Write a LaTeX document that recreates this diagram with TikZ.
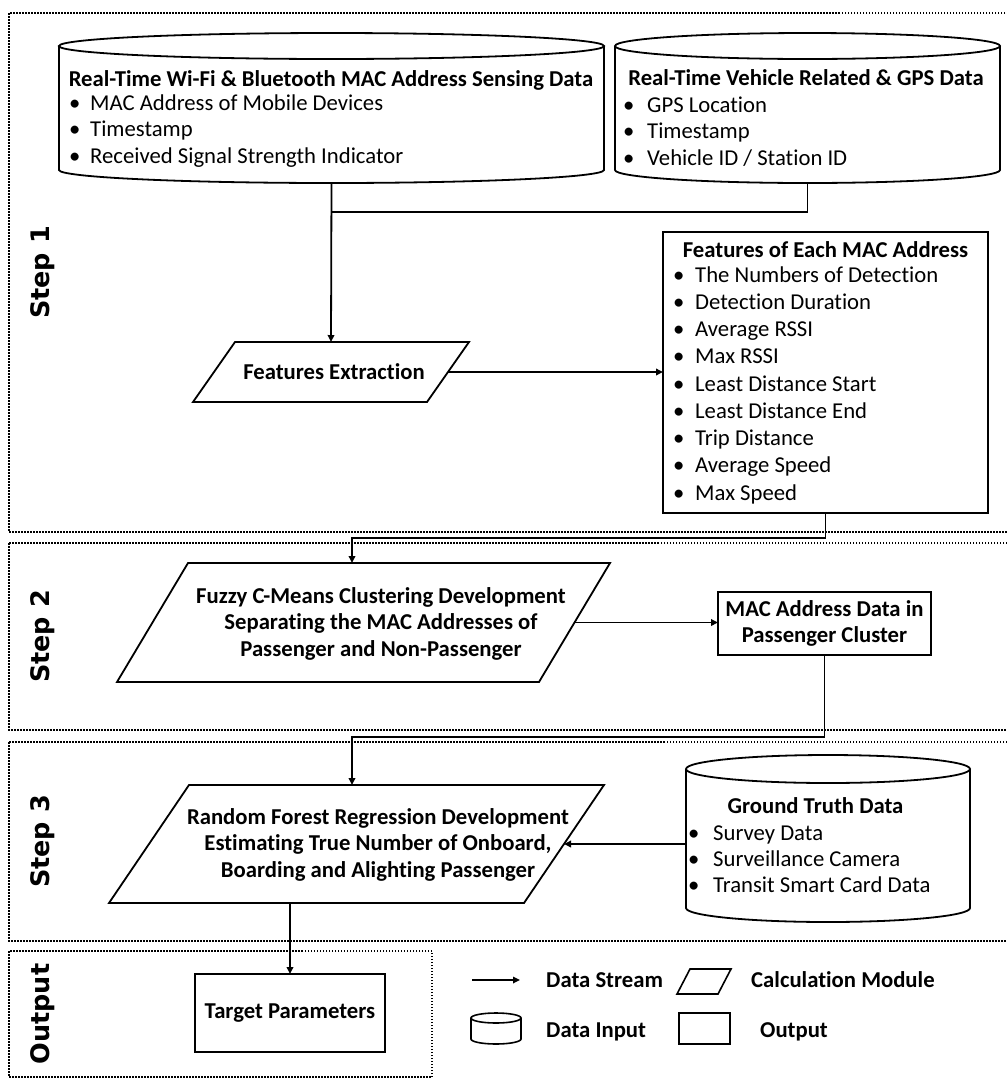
\documentclass[tikz,border=0pt]{standalone}
\usepackage{fontspec}
\setmainfont{Carlito}[Ligatures=NoCommon]
\newfontfamily\stepfont{DejaVu Sans}
\usetikzlibrary{arrows.meta,calc}

% bullet item with a fixed indent
\newcommand\itm[2][21pt]{\makebox[#1][l]{\textbullet}#2}

% database outline around an invisible rectangular node
\newcommand\cylframe[3][1.8pt]{%
  \draw[shp, line width=#1] let \p1=(#2.north west), \p2=(#2.south east), \n1={(\x2-\x1)/2} in
    (\x1,\y1-#3) -- (\x1,\y2+#3)
    arc[start angle=180, end angle=360, x radius={\n1*1pt}, y radius=#3]
    -- (\x2,\y1-#3)
    (\x1+\n1,\y1-#3) ellipse[x radius={\n1*1pt}, y radius=#3];
}

% calculation module outline: a parallelogram leaning right inside the node box,
% plus a coordinate at the middle of its right edge
\newcommand\paraframe[3][1.8pt]{%
  \draw[shp, line width=#1] (#2.south west) -- ([xshift=#3]#2.north west) -- (#2.north east)
    -- ([xshift=-#3]#2.south east) -- cycle;
  \coordinate (#2-r) at ($(#2.east)+(-#3/2,0)$);
}

\tikzset{
  shp/.style={draw=black, line width=1.8pt, line join=miter},
  dotbox/.style={draw=black, line width=1.5pt, dash pattern=on 1.5pt off 1.5pt},
  conn/.style={draw=black, line width=1.8pt},
  arr/.style={conn, -{Triangle[length=7pt,width=6.5pt]}},
  area/.style={inner sep=0pt, outer sep=0pt, draw=none, align=center},
  boxnode/.style={shp, rectangle, inner sep=0pt, outer sep=0pt, align=center},
  txt/.style={inner sep=0pt, font=\fontsize{22.7}{26.5}\selectfont},
  btxt/.style={inner sep=0pt, font=\fontsize{22.7}{26.5}\selectfont\bfseries},
  steplbl/.style={rotate=90, inner sep=0pt, font=\stepfont\bfseries\fontsize{25.5}{30}\selectfont},
}

\begin{document}
\begin{tikzpicture}[x=1pt,y=-1pt]
\clip (0,0) rectangle (1007,1080);
\fill[white] (0,0) rectangle (1007,1080);

% ---------- stage frames ----------
\draw[dotbox] (9,13) rectangle (1020,532);
\draw[dotbox] (9,543) rectangle (1020,730);
\draw[dotbox] (9,742) rectangle (1020,941);
\draw[dotbox] (9,951) rectangle (432,1077);

\node[steplbl] (s1) at (43,272.5) {Step 1};
\node[steplbl] (s2) at (43,636.5) {Step 2};
\node[steplbl] (s3) at (43,841.5) {Step 3};
\node[steplbl] (s4) at (43,1014) {Output};

% ---------- step 1 ----------
\node[area, minimum width=545pt, minimum height=150pt] (wifi) at (331.5,108) {};
\cylframe{wifi}{13pt}
\node[btxt, anchor=base] (wifittl) at (331,86) {Real-Time Wi-Fi \& Bluetooth MAC Address Sensing Data};
\node[txt, anchor=base west] (wifilst) at (69,110) {\begin{tabular}[t]{@{}l@{}}
  \itm[21pt]{MAC Address of Mobile Devices}\\
  \itm[21pt]{Timestamp}\\
  \itm[21pt]{Received Signal Strength Indicator}\end{tabular}};

\node[area, minimum width=385pt, minimum height=150pt] (veh) at (807.5,108) {};
\cylframe{veh}{13pt}
\node[btxt, anchor=base] (vehttl) at (806,85) {Real-Time Vehicle Related \& GPS Data};
\node[txt, anchor=base west] (vehlst) at (623,112) {\begin{tabular}[t]{@{}l@{}}
  \itm[24pt]{GPS Location}\\
  \itm[24pt]{Timestamp}\\
  \itm[24pt]{Vehicle ID / Station ID}\end{tabular}};

\node[area, btxt, minimum width=276pt, minimum height=60pt] (fe) at (331,372) {\hspace*{6pt}Features Extraction};
\paraframe{fe}{42pt}

\node[boxnode, minimum width=325pt, minimum height=281pt] (feat) at (825.5,372.5) {};
\node[btxt, anchor=base] (featttl) at (825.5,257) {Features of Each MAC Address};
\node[txt, anchor=base west, font=\fontsize{22.7}{27.25}\selectfont] (featlst) at (673,282) {\begin{tabular}[t]{@{}l@{}}
  \itm[22pt]{The Numbers of Detection}\\
  \itm[22pt]{Detection Duration}\\
  \itm[22pt]{Average RSSI}\\
  \itm[22pt]{Max RSSI}\\
  \itm[22pt]{Least Distance Start}\\
  \itm[22pt]{Least Distance End}\\
  \itm[22pt]{Trip Distance}\\
  \itm[22pt]{Average Speed}\\
  \itm[22pt]{Max Speed}\end{tabular}};

\coordinate (j1) at (331.5,212);
\draw[conn] (veh.south) |- (j1);
\draw[arr] (wifi.south) -- (fe.north);
\draw[arr] (fe-r) -- (fe-r -| feat.west);

% ---------- step 2 ----------
\node[area, minimum width=493pt, minimum height=119pt] (fz) at (363.5,622.5) {};
\paraframe{fz}{71pt}
\node[btxt, anchor=base] (fztxt) at (381,603) {\begin{tabular}[t]{@{}c@{}}
  Fuzzy C-Means Clustering Development\\
  Separating the MAC Addresses of\\
  Passenger and Non-Passenger\end{tabular}};

\node[boxnode, btxt, draw, line width=1.8pt, minimum width=213pt, minimum height=63pt] (mac) at (824.5,623.5)
  {MAC Address Data in\\Passenger Cluster};

\coordinate (k1) at (352,538);
\draw[arr] (feat.south) |- (k1) -- (k1 |- fz.north);
\draw[arr] (fz-r) -- (fz-r -| mac.west);

% ---------- step 3 ----------
\node[area, minimum width=495pt, minimum height=118pt] (rf) at (356.5,844) {};
\paraframe{rf}{80pt}
\node[btxt, anchor=base] (rftxt) at (378,824) {\begin{tabular}[t]{@{}c@{}}
  Random Forest Regression Development\\
  Estimating True Number of Onboard,\\
  Boarding and Alighting Passenger\end{tabular}};

\node[area, minimum width=284pt, minimum height=167pt] (gt) at (828,838.5) {};
\cylframe{gt}{14pt}
\node[btxt, anchor=base] (gtttl) at (815.5,813) {Ground Truth Data};
\node[txt, anchor=base west, font=\fontsize{22.7}{26}\selectfont] (gtlst) at (688,840) {\begin{tabular}[t]{@{}l@{}}
  \itm[25pt]{Survey Data}\\
  \itm[25pt]{Surveillance Camera}\\
  \itm[25pt]{Transit Smart Card Data}\end{tabular}};

\coordinate (k2) at (352,737);
\draw[arr] (mac.south) |- (k2) -- (k2 |- rf.north);
\draw[arr] (gt.west |- rf-r) -- (rf-r);

% ---------- output ----------
\node[boxnode, btxt, draw, line width=1.8pt, minimum width=190pt, minimum height=78pt] (tp) at (290,1013) {Target Parameters};
\draw[arr] (rf.south -| tp.north) -- (tp.north);

% ---------- legend ----------
\coordinate (lgs) at (472,980);
\coordinate (lge) at (520,980);
\draw[arr, line width=1.6pt] (lgs) -- (lge);
\node[btxt, anchor=base west] (lg1) at (546,987) {Data Stream};
\node[area, minimum width=54pt, minimum height=25pt] (lgpar) at (704,981.5) {};
\paraframe[1.6pt]{lgpar}{13pt}
\node[btxt, anchor=base west] (lg2) at (751,987) {Calculation Module};

\node[area, minimum width=50pt, minimum height=31pt] (lgcyl) at (496,1028.5) {};
\cylframe[1.6pt]{lgcyl}{5pt}
\node[btxt, anchor=base west] (lg3) at (546,1037) {Data Input};
\node[boxnode, line width=1.6pt, minimum width=51pt, minimum height=31pt] (lgsq) at (704.5,1028.5) {};
\node[btxt, anchor=base west] (lg4) at (760,1037) {Output};
\end{tikzpicture}
\end{document}
